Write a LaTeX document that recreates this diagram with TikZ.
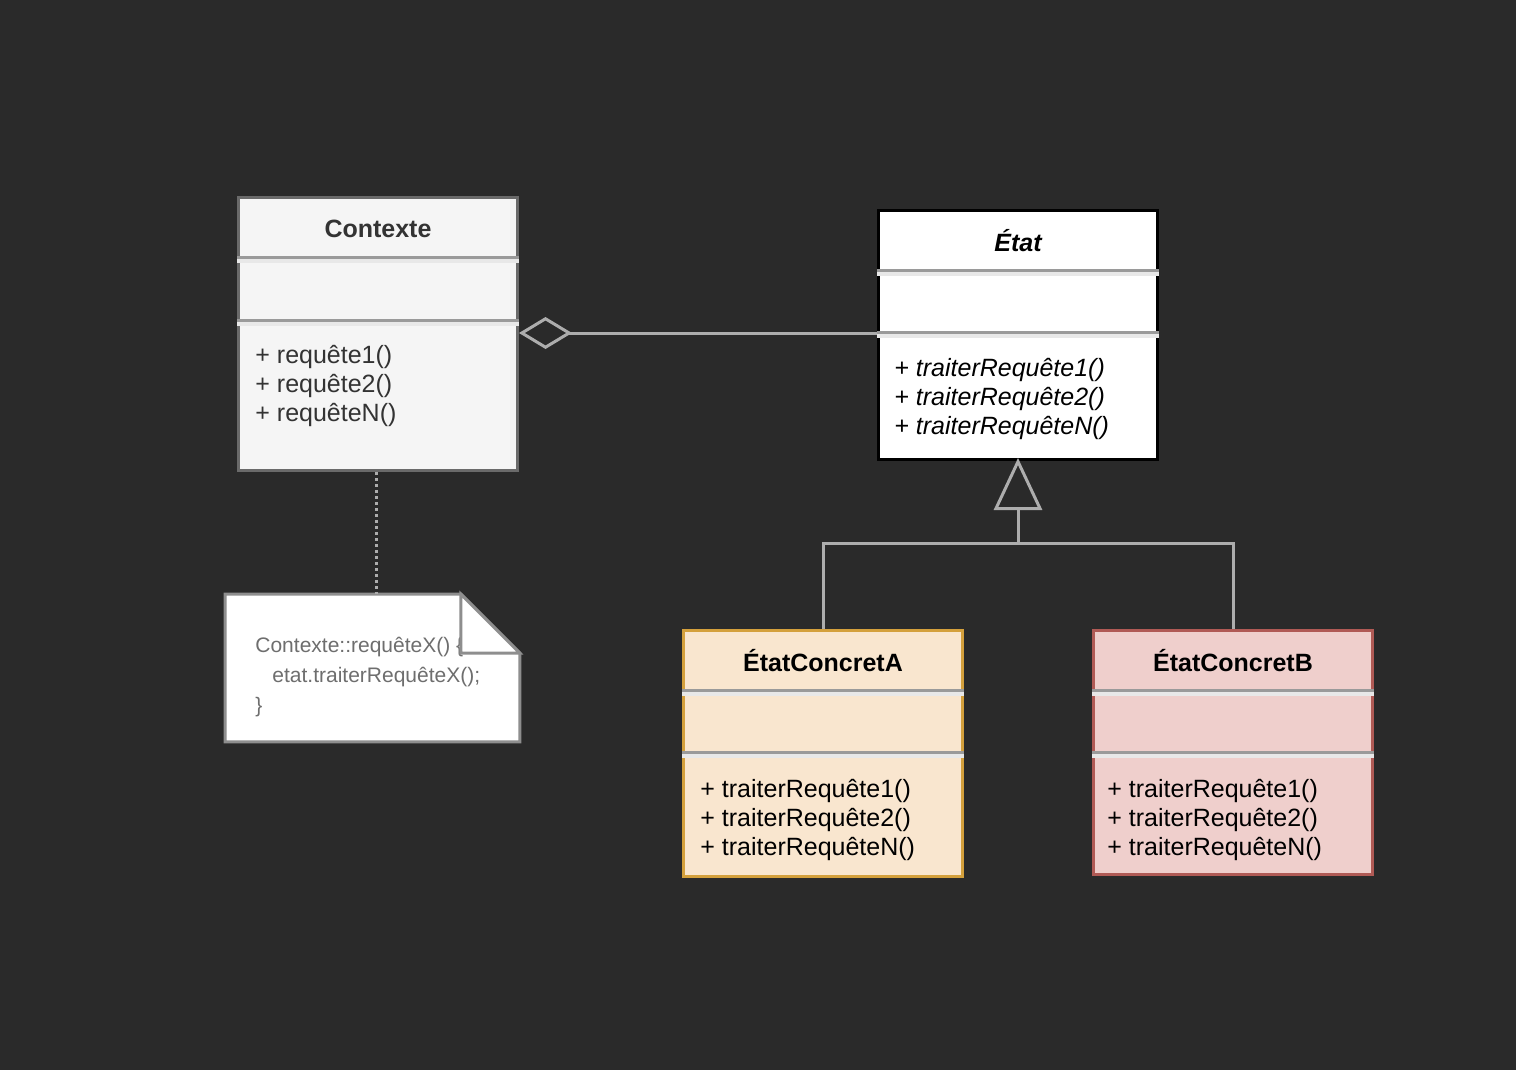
\documentclass[tikz,border=0pt]{standalone}
\usepackage{fontspec}
\setmainfont{Liberation Sans}
\usetikzlibrary{arrows.meta,calc}

\definecolor{bgc}{HTML}{2A2A2A}
\definecolor{wire}{HTML}{ADADAD}
\definecolor{ctxline}{HTML}{6A6A6A}
\definecolor{ctxfill}{HTML}{F5F5F5}
\definecolor{ctxtext}{HTML}{333333}
\definecolor{aline}{HTML}{D4A03C}
\definecolor{afill}{HTML}{F9E6CF}
\definecolor{bline}{HTML}{B05A55}
\definecolor{bfill}{HTML}{EFCFCC}
\definecolor{noteline}{HTML}{8E8E8E}
\definecolor{notetext}{HTML}{6E6E6E}
\definecolor{sepdark}{HTML}{9A9A9A}
\definecolor{seplight}{HTML}{E8E8E8}

\tikzset{
  classbox/.style={draw, line width=1.5pt, anchor=north west, inner sep=0pt,
    minimum width=139.5pt, minimum height=#1},
  title/.style={font=\fontsize{12.5}{15}\selectfont\bfseries, inner sep=0pt},
  members/.style={font=\fontsize{12.5}{14.5}\selectfont, align=left, anchor=west, inner sep=0pt},
  notetxt/.style={font=\fontsize{10.5}{15}\selectfont, text=notetext, align=left, anchor=west, inner sep=0pt},
  conn/.style={draw=wire, line width=1.5pt},
}

% a compartment divider: dark rule over a light rule
\newcommand{\divider}[2]{%
  \draw[sepdark, line width=1.5pt] ($(#1.north west)+(0,#2)$) -- ($(#1.north east)+(0,#2)$);
  \draw[seplight, line width=2pt] ($(#1.north west)+(0,#2+3.5)$) -- ($(#1.north east)+(0,#2+3.5)$);
}

\begin{document}
\begin{tikzpicture}[x=0.5pt, y=-0.5pt]
  \fill[bgc] (0,0) rectangle (1516,1070);
  \useasboundingbox (0,0) rectangle (1516,1070);

  % classes
  \node[classbox=136.5pt, draw=ctxline, fill=ctxfill] (ctx) at (237,196) {};
  \node[classbox=124.5pt, draw=black, fill=white] (etat) at (877,209) {};
  \node[classbox=123pt, draw=aline, fill=afill] (ca) at (682,629) {};
  \node[classbox=122pt, draw=bline, fill=bfill] (cb) at (1092,629) {};

  \divider{ctx}{61}  \divider{ctx}{124}
  \divider{etat}{61} \divider{etat}{123}
  \divider{ca}{61}   \divider{ca}{123}
  \divider{cb}{61}   \divider{cb}{123}

  \node[title, text=ctxtext] (ctxname) at ($(ctx.north)+(0,33)$) {Contexte};
  \node[members, text=ctxtext] (ctxops) at (255,386) {+ requête1()\\+ requête2()\\+ requêteN()};

  \node[title, font=\fontsize{12.5}{15}\selectfont\bfseries\itshape] (etatname) at ($(etat.north)+(0,32)$) {État};
  \node[members, font=\fontsize{12.5}{14.5}\selectfont\itshape] (etatops) at (894,399) {+ traiterRequête1()\\+ traiterRequête2()\\+ traiterRequêteN()};

  \node[title] (caname) at ($(ca.north)+(0,32)$) {ÉtatConcretA};
  \node[members] (caops) at (700,820) {+ traiterRequête1()\\+ traiterRequête2()\\+ traiterRequêteN()};

  \node[title] (cbname) at ($(cb.north)+(0,32)$) {ÉtatConcretB};
  \node[members] (cbops) at (1107,820) {+ traiterRequête1()\\+ traiterRequête2()\\+ traiterRequêteN()};

  % note with folded corner
  \node[anchor=north west, inner sep=0pt, minimum width=147pt, minimum height=73.5pt] (note) at (225,594) {};
  \draw[noteline, fill=white, line width=1.5pt]
    (note.north west) -- ($(note.north east)+(-59,0)$) -- ($(note.north east)+(0,59)$)
    -- (note.south east) -- (note.south west) -- cycle;
  \node[notetxt] (notecode) at (255,677) {Contexte::requêteX() \{\\\hspace*{8.5pt}etat.traiterRequêteX();\\\}};
  \draw[noteline, fill=white, line width=1.5pt, line join=miter]
    ($(note.north east)+(-59,0)$) -- ($(note.north east)+(-59,59)$) -- ($(note.north east)+(0,59)$) -- cycle;

  % aggregation
  \coordinate (aggy) at (0,333);
  \draw[conn, {Diamond[open, length=26.5pt, width=16pt]}-] (ctx.east |- aggy) -- (etat.west |- aggy);

  % generalization
  \coordinate (gen) at ($(etat.south |- 0,543)$);
  \draw[conn] (ca.north) |- (gen) -| (cb.north);
  \draw[conn, -{Triangle[open, length=26pt, width=24pt]}] (gen) -- ($(etat.south)+(0,-3)$);

  % note link
  \coordinate (tag) at ($(ctx.south)+(-2,0)$);
  \draw[draw=wire, line width=1.5pt, dash pattern=on 1.5pt off 1.5pt] (tag) -- (tag |- note.north);
\end{tikzpicture}
\end{document}
